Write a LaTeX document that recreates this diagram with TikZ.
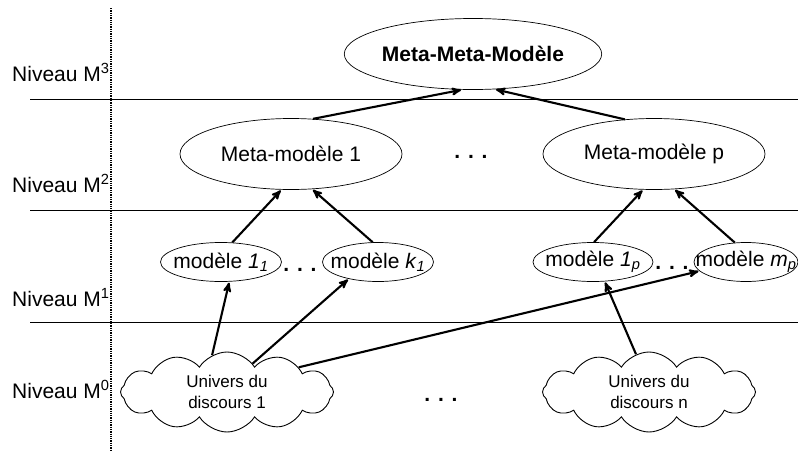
\documentclass[tikz,border=0pt]{standalone}
\usepackage{fontspec}
\setmainfont{Liberation Sans}
\usetikzlibrary{arrows,shapes.geometric,shapes.symbols}

\newcommand{\mdl}[2]{mod\`ele \textit{#1}\textsubscript{\textit{#2}}}

\begin{document}
\begin{tikzpicture}[x=1pt,y=-1pt,>=stealth',
	every node/.style={font=\fontsize{21}{25}\selectfont},
	meta/.style={ellipse,draw,line width=0.7pt,inner sep=0pt,minimum width=222pt,minimum height=71pt},
	model/.style={ellipse,draw,line width=0.7pt,inner sep=0pt,minimum height=39pt},
	univ/.style={cloud,draw,line width=0.9pt,cloud puffs=12,cloud puff arc=115,cloud ignores aspect,
		minimum width=213pt,minimum height=80pt,inner sep=0pt,align=center,font=\fontsize{17}{21}\selectfont},
	level/.style={anchor=base west,inner sep=0pt},
	dots/.style={font=\fontsize{21}{25}\selectfont\bfseries,inner sep=0pt},
	sep/.style={line width=0.7pt},
	conf/.style={->,line width=2.1pt,shorten >=1pt}]

\useasboundingbox (0,0) rectangle (798,450);

% niveaux
\node[level] (n3) at (12,81)  {Niveau M\textsuperscript{3}};
\node[level] (n2) at (12,192) {Niveau M\textsuperscript{2}};
\node[level] (n1) at (12,306) {Niveau M\textsuperscript{1}};
\node[level] (n0) at (12,398) {Niveau M\textsuperscript{0}};

\draw[densely dotted,line width=1.3pt] (111,8) -- (111,450);
\foreach \y in {99,210,322}
	\draw[sep] (30,\y) -- (798,\y);

% M3 et M2
\node[meta,font=\fontsize{21}{25}\selectfont\bfseries] (metameta) at (473,54) {Meta-Meta-Mod\`ele};
\node[meta] (meta1) at (291,154) {Meta-mod\`ele 1};
\node[meta] (metap) at (654,154) {Meta-mod\`ele p};
\node[dots] (d1) at (471,157) {. . .};

% M1
\node[model,minimum width=121pt] (m11) at (221,262) {\makebox[0pt]{\mdl{1}{1}}};
\node[model,minimum width=111pt] (mk1) at (378,262) {\makebox[0pt]{\mdl{k}{1}}};
\node[model,minimum width=120pt] (m1p) at (593,262) {\makebox[0pt]{\mdl{1}{p}}};
\node[model,minimum width=104pt] (mmp) at (746,262) {\makebox[0pt]{\mdl{m}{p}}};
\node[dots] (d2) at (300,270) {. . .};
\node[dots] (d3) at (672,268) {. . .};

% M0
\node[univ] (u1) at (227,392) {Univers du\\discours 1};
\node[univ] (un) at (649,392) {Univers du\\discours n};
\node[dots] (d4) at (441,400) {. . .};

\draw[conf] (meta1.58)  -- (metameta.253);
\draw[conf] (metap.130) -- (metameta.302);
\draw[conf] (m11.60)  -- (meta1.255);
\draw[conf] (mk1.105) -- (meta1.301);
\draw[conf] (m1p.87)  -- (metap.253);
\draw[conf] (mmp.120) -- (metap.300);
\draw[conf] (u1.112) -- (m11.293);
\draw[conf] (u1.48)  -- (mk1.210);
\draw[conf] (u1.19)  -- (mmp.191);
\draw[conf] (un.109) -- (m1p.301);
\end{tikzpicture}
\end{document}
